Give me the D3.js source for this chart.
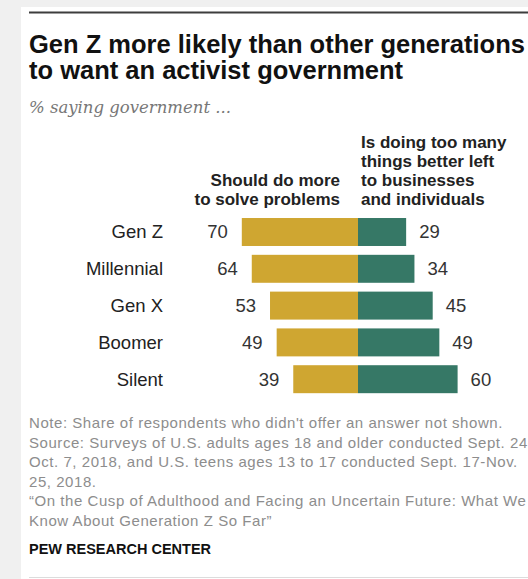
<!DOCTYPE html>
<html>
<head>
<meta charset="utf-8">
<script src="https://cdn.jsdelivr.net/npm/d3@7"></script>
<style>
  html, body { margin: 0; padding: 0; background: #f0f0f0; }
  svg { display: block; }
</style>
</head>
<body>
<div id="chart"></div>
<script>
// Data
const generations = ["Gen Z", "Millennial", "Gen X", "Boomer", "Silent"];
const doMore = [70, 64, 53, 49, 39];
const tooMany = [29, 34, 45, 49, 60];

const leftHeader = ["Should do more", "to solve problems"];
const rightHeader = ["Is doing too many", "things better left", "to businesses", "and individuals"];
const noteLines = [
    "Note: Share of respondents who didn't offer an answer not shown.",
    "Source: Surveys of U.S. adults ages 18 and older conducted Sept. 24-",
    "Oct. 7, 2018, and U.S. teens ages 13 to 17 conducted Sept. 17-Nov.",
    "25, 2018.",
    "\u201cOn the Cusp of Adulthood and Facing an Uncertain Future: What We",
    "Know About Generation Z So Far\u201d"
];

const W = 528, H = 579;
const gold = "#cfa631", green = "#367866";
const font = "'Liberation Sans', Arial, sans-serif";

const svg = d3.select("#chart").append("svg")
    .attr("width", W)
    .attr("height", H);

// White panel on grey page
svg.append("rect").attr("x", 0).attr("y", 0).attr("width", W).attr("height", H).attr("fill", "#f0f0f0");
svg.append("rect").attr("x", 21).attr("y", 7).attr("width", W - 21).attr("height", H - 7).attr("fill", "#fff");

// Top rule and bottom rule
svg.append("line").attr("x1", 29).attr("x2", W).attr("y1", 12.5).attr("y2", 12.5)
    .attr("stroke", "#3d3d3d").attr("stroke-width", 2);
svg.append("line").attr("x1", 29).attr("x2", W).attr("y1", 577.5).attr("y2", 577.5)
    .attr("stroke", "#dcdcdc").attr("stroke-width", 1);

// Title
const title = svg.append("text")
    .style("font-family", font).style("font-weight", "bold")
    .style("font-size", "25.5px").attr("fill", "#111");
title.append("tspan").attr("x", 29).attr("y", 53).text("Gen Z more likely than other generations");
title.append("tspan").attr("x", 29).attr("y", 79).text("to want an activist government");

// Subtitle
svg.append("text")
    .attr("x", 29).attr("y", 113)
    .style("font-family", "'DejaVu Serif', Georgia, serif").style("font-style", "italic")
    .style("font-size", "16.5px").attr("fill", "#777")
    .text("% saying government ...");

// Scales
const center = 358;
const x = d3.scaleLinear().domain([0, 100]).range([0, 166]);
const y = d3.scaleBand().domain(generations).range([213.6, 397.6])
    .paddingInner(0.24).paddingOuter(0.12);

const rows = generations.map((g, i) => ({ gen: g, left: doMore[i], right: tooMany[i] }));

// Column headers
svg.append("g").selectAll("text").data(leftHeader).enter().append("text")
    .attr("x", 340).attr("y", (d, i) => 186 + i * 19)
    .attr("text-anchor", "end")
    .style("font-family", font).style("font-weight", "bold").style("font-size", "17px")
    .attr("fill", "#222").text(d => d);

svg.append("g").selectAll("text").data(rightHeader).enter().append("text")
    .attr("x", 361).attr("y", (d, i) => 148 + i * 19)
    .style("font-family", font).style("font-weight", "bold").style("font-size", "17px")
    .attr("fill", "#222").text(d => d);

// Bars
const bars = svg.append("g");
bars.selectAll(".left").data(rows).enter().append("rect")
    .attr("class", "left")
    .attr("x", d => center - x(d.left))
    .attr("y", d => y(d.gen))
    .attr("width", d => x(d.left))
    .attr("height", y.bandwidth())
    .attr("fill", gold);

bars.selectAll(".right").data(rows).enter().append("rect")
    .attr("class", "right")
    .attr("x", center)
    .attr("y", d => y(d.gen))
    .attr("width", d => x(d.right))
    .attr("height", y.bandwidth())
    .attr("fill", green);

// Category labels
svg.append("g").selectAll("text").data(rows).enter().append("text")
    .attr("x", 163)
    .attr("y", d => y(d.gen) + y.bandwidth() / 2)
    .attr("dy", "0.35em")
    .attr("text-anchor", "end")
    .style("font-family", font).style("font-size", "18.5px")
    .attr("fill", "#222").text(d => d.gen);

// Value labels
svg.append("g").selectAll("text").data(rows).enter().append("text")
    .attr("x", d => center - x(d.left) - 14)
    .attr("y", d => y(d.gen) + y.bandwidth() / 2)
    .attr("dy", "0.35em")
    .attr("text-anchor", "end")
    .style("font-family", font).style("font-size", "18.5px")
    .attr("fill", "#333").text(d => d.left);

svg.append("g").selectAll("text").data(rows).enter().append("text")
    .attr("x", d => center + x(d.right) + 13)
    .attr("y", d => y(d.gen) + y.bandwidth() / 2)
    .attr("dy", "0.35em")
    .style("font-family", font).style("font-size", "18.5px")
    .attr("fill", "#333").text(d => d.right);

// Notes
svg.append("g").selectAll("text").data(noteLines).enter().append("text")
    .attr("x", 29).attr("y", (d, i) => 428 + i * 19.5)
    .style("font-family", font).style("font-size", "15px")
    .style("letter-spacing", "0.55px")
    .attr("fill", "#8d8d8d").text(d => d);

svg.append("text")
    .attr("x", 29).attr("y", 554)
    .style("font-family", font).style("font-weight", "bold").style("font-size", "14.5px")
    .attr("fill", "#111").text("PEW RESEARCH CENTER");
</script>
</body>
</html>
